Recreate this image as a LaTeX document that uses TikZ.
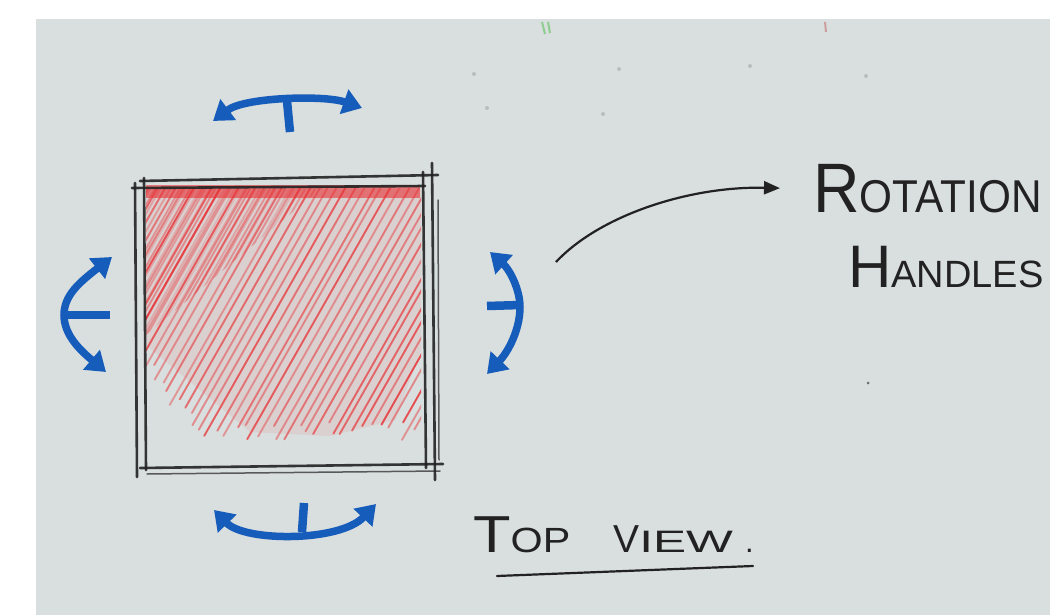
\documentclass[tikz,border=0pt]{standalone}
\usepackage{fontspec}
\setmainfont{Liberation Sans}
\usepackage{graphicx}
\usetikzlibrary{arrows.meta}
\definecolor{paper}{RGB}{217,222,222}
\definecolor{hblue}{RGB}{22,92,186}
\definecolor{ink}{RGB}{34,34,34}
\definecolor{redpen}{RGB}{232,50,54}
\begin{document}
\begin{tikzpicture}[x=1pt,y=-1pt,
  handle/.style={draw=hblue, line width=7.5pt, line cap=round,
    {Triangle[length=19pt,width=25pt]}-{Triangle[length=19pt,width=25pt]}},
  stem/.style={draw=hblue, line width=8.5pt},
  sketch/.style={draw=ink, line width=2.6pt, line cap=round, draw opacity=0.9},
  thinsketch/.style={draw=ink, line width=1.5pt, line cap=round, draw opacity=0.7},
  hatch/.style={draw=redpen, line width=1.9pt, line cap=round},
  pointer/.style={draw=ink, line width=2.2pt, -{Triangle[length=16pt,width=13pt]}},
  txt/.style={text=ink, inner sep=0pt}]
\useasboundingbox (0,0) rectangle (1050,615);
\fill[white] (0,0) rectangle (1050,615);
\fill[paper] (36,19) rectangle (1050,615);
% faint show-through marks
\foreach \p in {(474,74),(619,69),(750,66),(866,76),(487,108),(603,114)}
  \fill[gray, opacity=.35] \p circle (2);
\draw[green!50!gray, opacity=.5, line width=2pt] (542,22) -- (545,34) (548,22) -- (550,33);
\draw[red!50!gray, opacity=.4, line width=2pt] (825,22) -- (826,32);
\fill[ink, opacity=.6] (868,383) circle (1.5);
% red hatching
\pgfmathsetseed{11}
\begin{scope}
\clip (146,189) rectangle (421,462);
\fill[redpen, opacity=0.08] (146,189) -- (421,189) -- (421,350) -- (395,420) -- (330,436) -- (250,432) -- (146,345) -- cycle;
\foreach \i in {0,...,46}{
  \pgfmathsetmacro\xt{146+9*\i+3*rnd}
  \pgfmathsetmacro\ye{min(440,372+(\xt-250)*0.8)-18*rnd}
  \pgfmathsetmacro\op{0.35+0.5*rnd}
  \draw[hatch, draw opacity=\op] (\xt+10,171.4) -- (\xt-0.569*\ye+0.569*189,\ye);
}
\end{scope}
\begin{scope}
\clip (146,189) -- (320,189) -- (146,335) -- cycle;
\foreach \i in {0,...,34}{
  \pgfmathsetmacro\xt{150+5*\i}
  \pgfmathsetmacro\op{0.15+0.35*rnd}
  \draw[hatch, draw opacity=\op] (\xt+10,171.4) -- ++(-170,299);
}
\end{scope}
\fill[redpen, opacity=0.6] (146,185) rectangle (420,198);
% square outline (sketchy)
\draw[sketch] (132,188) -- (425,186);
\draw[sketch] (140,181) -- (438,175);
\draw[sketch] (135,183) -- (137,477);
\draw[sketch] (144,178) -- (146,470);
\draw[sketch] (423,172) -- (426,468);
\draw[sketch] (432,163) -- (435,480);
\draw[thinsketch] (438,200) -- (439,460);
\draw[sketch] (140,468) -- (443,464);
\draw[thinsketch] (147,474) -- (440,471);
% rotation handles
\draw[stem] (287,101) -- (290,132);
\draw[handle] (213,121) .. controls (245,97) and (325,95) .. (362,108);
\draw[stem] (64,315) -- (110,315);
\draw[handle] (112,257) .. controls (80,282) and (64,295) .. (64,315) .. controls (64,335) and (80,350) .. (106,372);
\draw[stem] (487,306) -- (521,305);
\draw[handle] (490,252) .. controls (510,270) and (520,290) .. (520,307) .. controls (520,330) and (508,352) .. (487,374);
\draw[stem] (304,503) -- (302,532);
\draw[handle] (214,510) .. controls (245,542) and (340,542) .. (376,504);
% labels
\node[txt, anchor=base west] (rot) at (813,212)
  {\scalebox{0.92}[1]{{\fontsize{70}{70}\selectfont R}{\fontsize{46}{46}\selectfont OTATION}}};
\node[txt, anchor=base west] (hnd) at (848,287)
  {{\fontsize{60}{60}\selectfont H}{\fontsize{38}{38}\selectfont ANDLES}};
\coordinate (ptr) at (556,262);
\draw[pointer] (ptr) .. controls (600,215) and (690,186) .. ([xshift=-33pt]rot.west);
\node[txt, anchor=base west] (tv) at (473,552)
  {\scalebox{1.18}[1]{{\fontsize{52}{52}\selectfont T}{\fontsize{35}{35}\selectfont OP}}\hspace{43pt}%
   {\fontsize{39}{39}\selectfont V}\scalebox{1.6}[1]{\fontsize{31}{31}\selectfont IEW}\hspace{12pt}{\fontsize{31}{31}\selectfont .}};
\draw[ink, line width=2.2pt, line cap=round] (497,576) -- (753,566);
\end{tikzpicture}
\end{document}
